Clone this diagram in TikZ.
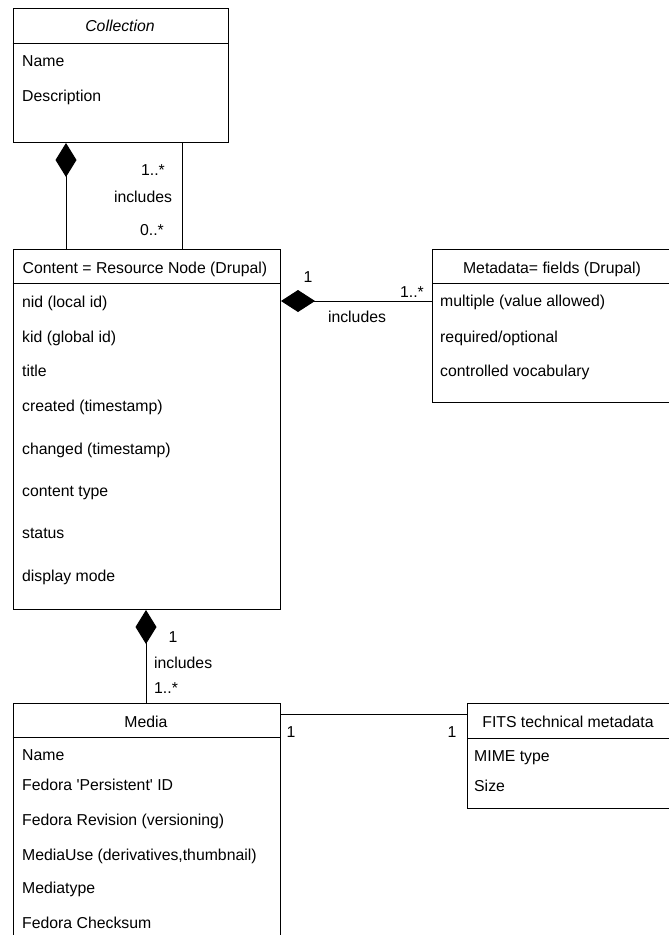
\documentclass[tikz,border=0pt]{standalone}
\usepackage{fontspec}
\setmainfont{Liberation Sans}[Ligatures=TeXOff]
\usetikzlibrary{arrows.meta,calc}
\begin{document}
\begin{tikzpicture}[x=1pt,y=-1pt,
  font=\fontsize{15.8}{18}\selectfont,
  classbox/.style={draw=black, line width=1pt, fill=white, inner sep=0pt, anchor=north west},
  attr/.style={anchor=base west, inner sep=0pt},
  title/.style={anchor=base, inner sep=0pt},
  lbl/.style={anchor=base, inner sep=0pt},
  link/.style={draw=black, line width=1pt},
  comp/.style={link, {Diamond[length=34pt,width=21pt]}-},
  compside/.style={link, {Diamond[length=34pt,width=22pt]}-}]
\useasboundingbox (0,0) rectangle (669,935);
\clip (0,0) rectangle (669,935);

% ---- Collection ----
\node[classbox, minimum width=215.5pt, minimum height=134pt] (coll) at (12.5,8) {};
\draw[line width=1pt] ($(coll.north west)+(0,35)$) -- ($(coll.north east)+(0,35)$);
\node[title] (collT) at (120,31.5) {\itshape Collection};
\node[attr] (collA1) at (22,66.5) {Name};
\node[attr] (collA2) at (22,101.5) {Description};

% ---- Content = Resource Node ----
\node[classbox, minimum width=267.5pt, minimum height=360pt] (cont) at (12.5,249) {};
\draw[line width=1pt] ($(cont.north west)+(0,34)$) -- ($(cont.north east)+(0,34)$);
\node[title] (contT) at (145,273.5) {Content = Resource Node (Drupal)};
\node[attr] (contA1) at (22,307.5) {nid (local id)};
\node[attr] (contA2) at (22,342.5) {kid (global id)};
\node[attr] (contA3) at (22,376.5) {title};
\node[attr] (contA4) at (22,411.5) {created (timestamp)};
\node[attr] (contA5) at (22,454.5) {changed (timestamp)};
\node[attr] (contA6) at (22,496.5) {content type};
\node[attr] (contA7) at (22,538.5) {status};
\node[attr] (contA8) at (22,581.5) {display mode};

% ---- Metadata = fields ----
\node[classbox, minimum width=268pt, minimum height=153pt] (meta) at (432,249) {};
\draw[line width=1pt] ($(meta.north west)+(0,34)$) -- ($(meta.north east)+(0,34)$);
\node[title] (metaT) at (552,273.5) {Metadata= fields (Drupal)};
\node[attr] (metaA1) at (440,306.5) {multiple (value allowed)};
\node[attr] (metaA2) at (440,342.5) {required/optional};
\node[attr] (metaA3) at (440,376.5) {controlled vocabulary};

% ---- Media ----
\node[classbox, minimum width=267.5pt, minimum height=260pt] (media) at (12.5,703) {};
\draw[line width=1pt] ($(media.north west)+(0,34)$) -- ($(media.north east)+(0,34)$);
\node[title] (mediaT) at (146,727.5) {Media};
\node[attr] (mediaA1) at (22,760.5) {Name};
\node[attr] (mediaA2) at (22,790.5) {Fedora 'Persistent' ID};
\node[attr] (mediaA3) at (22,825.5) {Fedora Revision (versioning)};
\node[attr] (mediaA4) at (22,860.5) {MediaUse (derivatives,thumbnail)};
\node[attr] (mediaA5) at (22,893.5) {Mediatype};
\node[attr] (mediaA6) at (22,928.5) {Fedora Checksum};

% ---- FITS technical metadata ----
\node[classbox, minimum width=233pt, minimum height=105pt] (fits) at (467,703) {};
\draw[line width=1pt] ($(fits.north west)+(0,35)$) -- ($(fits.north east)+(0,35)$);
\node[title] (fitsT) at (568,727.5) {FITS technical metadata};
\node[attr] (fitsA1) at (474,761.5) {MIME type};
\node[attr] (fitsA2) at (474,791.5) {Size};

% ---- Associations ----
% Collection <>-- Content
\draw[comp] ($(coll.south west)+(53.5,0)$) -- ($(cont.north west)+(53.5,0)$);
\draw[link] ($(coll.south west)+(169.5,0)$) -- ($(cont.north west)+(169.5,0)$);
\node[lbl] (l1) at (153,175.5) {1..*};
\node[lbl] (l2) at (143,202.5) {includes};
\node[lbl] (l3) at (152,235.5) {0..*};

% Content <>-- Metadata
\draw[compside] ($(cont.north east)+(0,52)$) -- ($(meta.north west)+(0,52)$);
\node[lbl] (l4) at (308,282.5) {1};
\node[lbl] (l5) at (412,297.5) {1..*};
\node[lbl] (l6) at (357,322.5) {includes};

% Content <>-- Media
\draw[comp] ($(cont.south west)+(133.5,0)$) -- ($(media.north west)+(133.5,0)$);
\node[lbl] (l7) at (173,642.5) {1};
\node[lbl, anchor=base west] (l8) at (154,668.5) {includes};
\node[lbl, anchor=base west] (l9) at (154,693.5) {1..*};

% Media --- FITS
\draw[link] ($(media.north east)+(0,11)$) -- ($(fits.north west)+(0,11)$);
\node[lbl] (l10) at (291,737.5) {1};
\node[lbl] (l11) at (452,737.5) {1};
\end{tikzpicture}
\end{document}
